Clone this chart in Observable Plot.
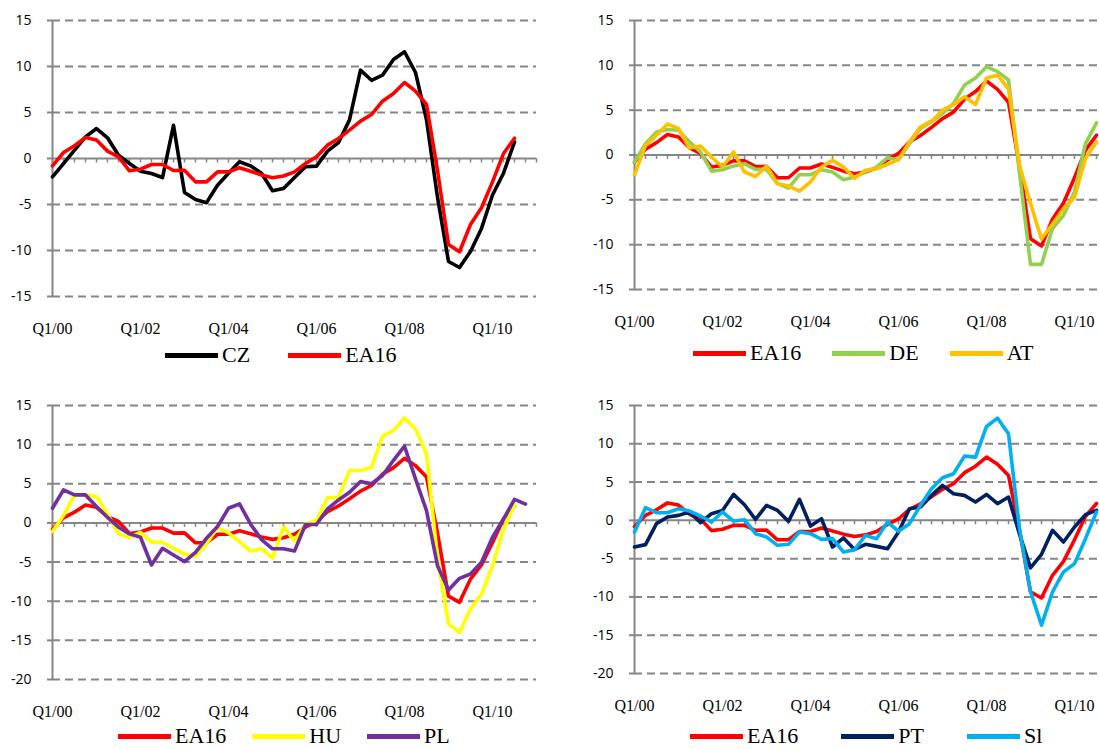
<!DOCTYPE html>
<html><head><meta charset="utf-8">
<script src="https://cdn.jsdelivr.net/npm/d3@7"></script>
<script src="https://cdn.jsdelivr.net/npm/@observablehq/plot@0.6"></script>
<style>
body{margin:0;background:#fff;}
#wrap{position:relative;width:1099px;height:749px;overflow:hidden;background:#fff;}
.panel{position:absolute;}
.legend{position:absolute;display:flex;align-items:center;height:24px;line-height:24px;font-family:"Liberation Serif","Times New Roman",serif;font-size:22px;color:#000;white-space:nowrap;}
.legend .item{display:flex;align-items:center;}
.legend .sw{width:53px;height:5px;margin-right:4px;}
</style></head><body><div id="wrap"></div>
<script>
const quarters = ["Q1/00","Q2/00","Q3/00","Q4/00","Q1/01","Q2/01","Q3/01","Q4/01",
  "Q1/02","Q2/02","Q3/02","Q4/02","Q1/03","Q2/03","Q3/03","Q4/03",
  "Q1/04","Q2/04","Q3/04","Q4/04","Q1/05","Q2/05","Q3/05","Q4/05",
  "Q1/06","Q2/06","Q3/06","Q4/06","Q1/07","Q2/07","Q3/07","Q4/07",
  "Q1/08","Q2/08","Q3/08","Q4/08","Q1/09","Q2/09","Q3/09","Q4/09",
  "Q1/10","Q2/10","Q3/10","Q4/10","Q1/11"];
const xTickLabels = ["Q1/00","Q1/02","Q1/04","Q1/06","Q1/08","Q1/10"];
const yTicksTop = [-15,-10,-5,0,5,10,15];
const yTicksBottom = [-20,-15,-10,-5,0,5,10,15];

const EA16 = [-0.8,0.65,1.38,2.28,2.0,0.8,0.18,-1.34,-1.16,-0.65,
  -0.65,-1.3,-1.27,-2.54,-2.54,-1.45,-1.45,-1.0,-1.38,-1.8,
  -2.1,-1.9,-1.45,-0.54,0.18,1.45,2.17,3.08,4.06,4.78,
  6.23,7.07,8.26,7.32,5.87,-1.3,-9.35,-10.14,-7.17,-5.36,
  -2.54,0.54,2.2];
const CZ = [-2.0,-0.55,0.9,2.35,3.26,2.25,0.36,-0.54,-1.38,-1.63,
  -2.07,3.6,-3.7,-4.46,-4.8,-2.9,-1.6,-0.36,-0.8,-1.6,
  -3.5,-3.26,-2.07,-0.9,-0.83,0.8,1.74,4.2,9.6,8.5,
  9.06,10.76,11.6,9.35,4.2,-4.2,-11.2,-11.85,-10.1,-7.6,
  -3.97,-1.6,1.8];
const DE = [-0.8,1.27,2.57,2.84,2.76,1.46,0.34,-1.8,-1.64,-1.23,
  -0.97,-1.6,-1.6,-3.2,-3.7,-2.2,-2.2,-1.64,-1.9,-2.76,
  -2.46,-1.9,-1.34,-0.3,-0.55,1.27,2.95,3.7,4.63,5.75,
  7.8,8.6,9.85,9.3,8.36,-2.0,-12.2,-12.2,-8.2,-6.75,
  -4.1,1.27,3.6];
const AT = [-2.2,1.08,2.2,3.47,2.95,0.78,1.0,-0.22,-1.34,0.34,
  -1.9,-2.4,-1.23,-3.2,-3.47,-4.03,-3.0,-1.34,-0.6,-1.34,
  -2.6,-1.7,-1.53,-1.04,-0.52,1.46,3.13,3.77,5.0,5.63,
  6.5,5.63,8.6,8.9,7.35,-1.15,-5.4,-9.37,-7.7,-6.0,
  -4.7,-0.4,1.46];
const HU = [-1.1,0.94,3.58,3.58,3.37,1.15,-1.4,-1.83,-1.2,-2.47,
  -2.47,-3.24,-3.96,-4.26,-2.7,-0.55,-1.28,-2.39,-3.6,-3.3,
  -4.5,-0.55,-2.3,-0.13,0.3,3.2,3.28,6.7,6.7,7.1,
  11.1,11.8,13.4,12.0,8.8,-4.5,-12.9,-14.0,-11.0,-9.1,
  -5.46,-0.8,2.3];
const PL = [1.88,4.22,3.58,3.58,2.1,0.72,-0.55,-1.4,-1.83,-5.37,
  -3.24,-4.1,-4.94,-3.75,-1.96,-0.47,1.88,2.43,-0.13,-2.13,
  -3.3,-3.3,-3.6,-0.2,-0.2,1.8,2.94,3.92,5.28,5.0,
  6.05,8.0,9.8,5.63,1.58,-5.46,-8.57,-7.08,-6.52,-5.03,
  -1.83,0.5,3.0,2.4];
const PT = [-3.48,-3.17,-0.43,0.43,0.65,1.09,-0.3,0.87,1.3,3.39,
  2.04,0.13,1.96,1.3,-0.13,2.74,-0.74,0.22,-3.48,-2.3,
  -3.8,-3.13,-3.4,-3.7,-1.52,1.52,1.74,3.26,4.57,3.48,
  3.26,2.39,3.39,2.17,3.04,-1.8,-6.2,-4.43,-1.3,-2.83,
  -0.87,0.74,1.3];
const SI = [-1.52,1.65,1.0,1.0,1.52,1.22,0.57,-0.22,1.09,-0.09,
  0.09,-1.74,-2.17,-3.26,-3.13,-1.52,-1.74,-2.48,-2.39,-4.13,
  -3.85,-1.96,-2.39,-0.22,-1.43,-0.43,1.96,4.13,5.57,6.09,
  8.39,8.26,12.26,13.35,11.3,-1.09,-9.3,-13.7,-9.35,-6.74,
  -5.65,-2.39,1.09];

const gray = "#868686";
const wrap = document.getElementById("wrap");

function rows(values){ return values.map((v,i)=>({q: quarters[i], v})); }

function panel(cfg){
  const {left, top, width, height, marginLeft, marginRight, marginTop, marginBottom, yDomain, yTicks, series} = cfg;
  const frameH = height - marginTop - marginBottom;
  const ppu = frameH / (yDomain[1] - yDomain[0]);
  const marks = [
    Plot.ruleY(yTicks.filter(d => d !== 0), {y: d => d, stroke: gray, strokeWidth: 2, strokeDasharray: "8,5"}),
    Plot.ruleY([0], {y: d => d, stroke: gray, strokeWidth: 2}),
    Plot.ruleX(quarters, {x: d => d, y1: 0, y2: -4.5 / ppu, stroke: gray, strokeWidth: 1.5}),
    Plot.ruleX([quarters[0]], {x: d => d, y1: yDomain[0], y2: yDomain[1], stroke: gray, strokeWidth: 2}),
    Plot.axisY(yTicks, {tickSize: 5, tickPadding: 16, tickFormat: d => String(d), fontSize: 14, fontFamily: "Open Sans", stroke: gray, strokeWidth: 2, fill: "#000", label: null}),
    Plot.axisX(xTickLabels, {tickSize: 0, tickPadding: 26, fontSize: 16, fontFamily: "Liberation Serif", fill: "#000", label: null}),
    ...series.map(s => Plot.lineY(rows(s.values), {x: "q", y: "v", stroke: s.color, strokeWidth: 3.6, strokeLinejoin: "round"}))
  ];
  const chart = Plot.plot({
    width, height, marginLeft, marginRight, marginTop, marginBottom,
    style: {background: "transparent", overflow: "visible"},
    x: {type: "point", domain: quarters, padding: 0, axis: null, label: null},
    y: {domain: yDomain, axis: null, label: null},
    marks
  });
  chart.classList.add("panel");
  chart.style.left = left + "px";
  chart.style.top = top + "px";
  wrap.appendChild(chart);

  const lg = document.createElement("div");
  lg.className = "legend";
  lg.style.left = cfg.legendLeft + "px";
  lg.style.top = (cfg.legendY - 12) + "px";
  series.forEach((s, i) => {
    const it = document.createElement("div");
    it.className = "item";
    if (i < series.length - 1) it.style.marginRight = cfg.legendGap + "px";
    const sw = document.createElement("div");
    sw.className = "sw";
    sw.style.background = s.color;
    const tx = document.createElement("span");
    tx.textContent = s.name;
    it.appendChild(sw); it.appendChild(tx);
    lg.appendChild(it);
  });
  wrap.appendChild(lg);
}

panel({left: 0, top: 0, width: 550, height: 346, marginLeft: 52, marginRight: 14, marginTop: 20, marginBottom: 50,
  yDomain: [-15, 15], yTicks: yTicksTop, legendLeft: 165, legendY: 355, legendGap: 38,
  series: [{name: "CZ", values: CZ, color: "#000000"}, {name: "EA16", values: EA16, color: "#FF0000"}]});
panel({left: 550, top: 0, width: 580, height: 339, marginLeft: 84, marginRight: 12, marginTop: 20, marginBottom: 50,
  yDomain: [-15, 15], yTicks: yTicksTop, legendLeft: 693, legendY: 353, legendGap: 31,
  series: [{name: "EA16", values: EA16, color: "#FF0000"}, {name: "DE", values: DE, color: "#92D050"}, {name: "AT", values: AT, color: "#FFC000"}]});
panel({left: 0, top: 380, width: 550, height: 349, marginLeft: 52, marginRight: 14, marginTop: 25, marginBottom: 50,
  yDomain: [-20, 15], yTicks: yTicksBottom, legendLeft: 118, legendY: 736, legendGap: 26,
  series: [{name: "EA16", values: EA16, color: "#FF0000"}, {name: "HU", values: HU, color: "#FFFF00"}, {name: "PL", values: PL, color: "#7030A0"}]});
panel({left: 550, top: 380, width: 580, height: 343, marginLeft: 84, marginRight: 12, marginTop: 25, marginBottom: 50,
  yDomain: [-20, 15], yTicks: yTicksBottom, legendLeft: 690, legendY: 736, legendGap: 43,
  series: [{name: "EA16", values: EA16, color: "#FF0000"}, {name: "PT", values: PT, color: "#002060"}, {name: "Sl", values: SI, color: "#00B0F0"}]});
</script>
</body></html>
